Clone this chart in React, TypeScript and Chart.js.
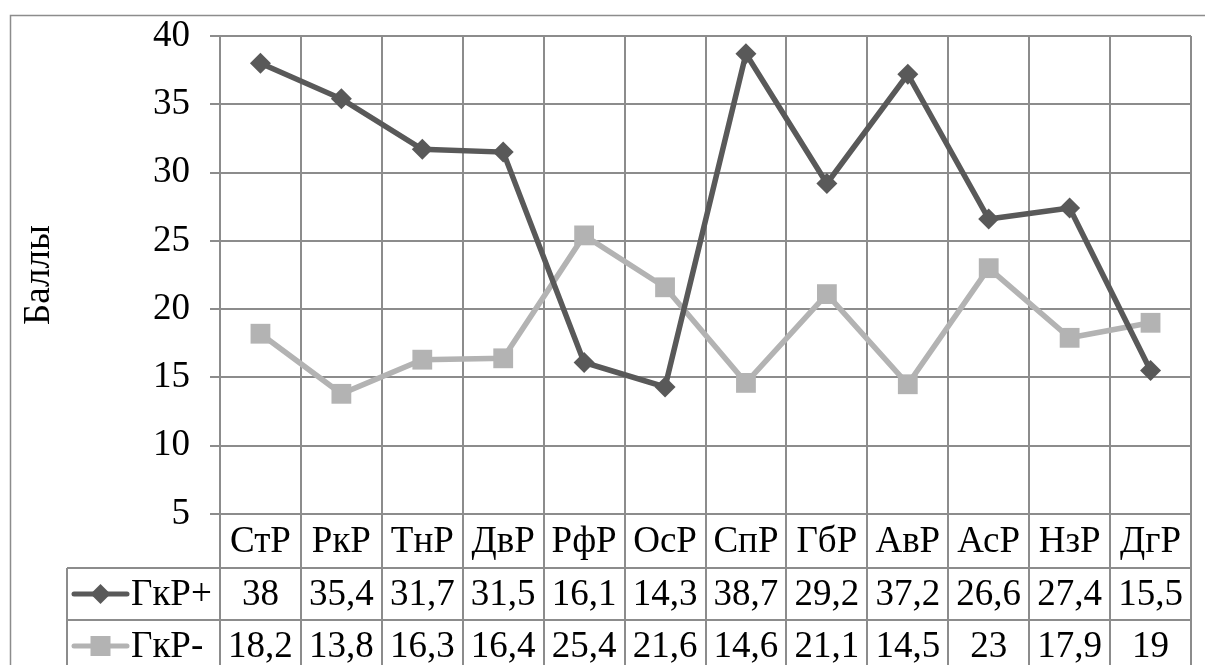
import React, { useEffect, useRef } from "react";
import { Chart, registerables } from "chart.js";

Chart.register(...registerables);

const categories = ["СтР", "РкР", "ТнР", "ДвР", "РфР", "ОсР", "СпР", "ГбР", "АвР", "АсР", "НзР", "ДгР"];
const seriesNames = ["ГкР+", "ГкР-"];
const gkrPlus = [38, 35.4, 31.7, 31.5, 16.1, 14.3, 38.7, 29.2, 37.2, 26.6, 27.4, 15.5];
const gkrMinus = [18.2, 13.8, 16.3, 16.4, 25.4, 21.6, 14.6, 21.1, 14.5, 23, 17.9, 19];
const yMin = 5;
const yMax = 40;
const yStep = 5;
const yTitle = "Баллы";

const DARK = "#595959";
const LIGHT = "#b3b3b3";
const GRID = "#8c8c8c";
const FONT = "'Liberation Serif', 'Times New Roman', serif";

const fmt = (v: number) => String(v).replace(".", ",");

const tablePlugin = {
  id: "dataTable",
  afterDraw(chart: any) {
    const ctx = chart.ctx as CanvasRenderingContext2D;
    const area = chart.chartArea;
    const n = categories.length;
    const colW = (area.right - area.left) / n;
    const rowTops = [area.bottom, area.bottom + 54, area.bottom + 106, area.bottom + 158];
    const legendLeft = 67;
    ctx.save();
    ctx.strokeStyle = GRID;
    ctx.lineWidth = 1.5;
    ctx.strokeRect(10.5, 15.5, 1210, 700);

    ctx.lineWidth = 2;
    ctx.strokeStyle = GRID;
    for (let i = 0; i <= n; i++) {
      const xx = Math.round(area.left + i * colW);
      ctx.beginPath();
      ctx.moveTo(xx, area.bottom);
      ctx.lineTo(xx, 680);
      ctx.stroke();
    }
    for (let r = 1; r < rowTops.length - 1; r++) {
      ctx.beginPath();
      ctx.moveTo(legendLeft, rowTops[r]);
      ctx.lineTo(area.right, rowTops[r]);
      ctx.stroke();
    }
    ctx.beginPath();
    ctx.moveTo(legendLeft, rowTops[1]);
    ctx.lineTo(legendLeft, 680);
    ctx.stroke();

    ctx.fillStyle = "#000";
    ctx.font = `37px ${FONT}`;
    ctx.textAlign = "center";
    ctx.textBaseline = "middle";
    const rowsData = [gkrPlus, gkrMinus];
    for (let i = 0; i < n; i++) {
      const cx = area.left + (i + 0.5) * colW;
      ctx.fillText(categories[i], cx, (rowTops[0] + rowTops[1]) / 2 + 1);
      for (let r = 0; r < rowsData.length; r++) {
        ctx.fillText(fmt(rowsData[r][i]), cx, (rowTops[r + 1] + rowTops[r + 2]) / 2 + 1);
      }
    }
    const colors = [DARK, LIGHT];
    for (let r = 0; r < seriesNames.length; r++) {
      const cy = (rowTops[r + 1] + rowTops[r + 2]) / 2;
      ctx.strokeStyle = colors[r];
      ctx.fillStyle = colors[r];
      ctx.lineWidth = 5;
      ctx.lineCap = "round";
      ctx.beginPath();
      ctx.moveTo(74, cy);
      ctx.lineTo(127, cy);
      ctx.stroke();
      const mx = 100.5;
      ctx.beginPath();
      if (r === 0) {
        ctx.moveTo(mx - 10, cy);
        ctx.lineTo(mx, cy - 10);
        ctx.lineTo(mx + 10, cy);
        ctx.lineTo(mx, cy + 10);
        ctx.closePath();
      } else {
        ctx.rect(mx - 10, cy - 10, 20, 20);
      }
      ctx.fill();
      ctx.fillStyle = "#000";
      ctx.textAlign = "left";
      ctx.fillText(seriesNames[r], 131, cy + 1);
    }
    ctx.restore();
  },
};

export default function App() {
  const ref = useRef<HTMLCanvasElement | null>(null);
  useEffect(() => {
    let chart: Chart | null = null;
    let cancelled = false;
    const build = () => {
      if (cancelled || !ref.current) return;
      chart = new Chart(ref.current, {
        type: "line",
        data: {
          labels: categories,
          datasets: [
            {
              label: seriesNames[0],
              data: gkrPlus,
              borderColor: DARK,
              backgroundColor: DARK,
              borderWidth: 5.5,
              pointStyle: "rectRot",
              pointRadius: 10.5,
              pointBorderWidth: 0,
              tension: 0,
              clip: false as any,
            },
            {
              label: seriesNames[1],
              data: gkrMinus,
              borderColor: LIGHT,
              backgroundColor: LIGHT,
              borderWidth: 5.5,
              pointStyle: "rect",
              pointRadius: 14,
              pointBorderWidth: 0,
              tension: 0,
              clip: false as any,
            },
          ],
        },
        options: {
          responsive: false,
          animation: false,
          devicePixelRatio: 1,
          layout: { padding: { top: 36, right: 13, left: 0, bottom: 0 } },
          plugins: { legend: { display: false }, tooltip: { enabled: false } },
          scales: {
            x: {
              type: "category",
              offset: true,
              grid: { color: GRID, lineWidth: 2, offset: true, drawTicks: false },
              border: { color: GRID, width: 2 },
              ticks: { display: false },
              afterFit: (s: any) => {
                s.height = 151;
                s.paddingLeft = 0;
                s.paddingRight = 0;
              },
            },
            y: {
              min: yMin,
              max: yMax,
              ticks: {
                stepSize: yStep,
                color: "#000",
                font: { family: FONT, size: 37 },
                padding: 20,
              },
              grid: { color: GRID, lineWidth: 2, tickLength: 10 },
              border: { color: GRID, width: 2 },
              title: {
                display: true,
                text: yTitle,
                color: "#000",
                font: { family: FONT, size: 37 },
                padding: { top: 17, bottom: 0 },
              },
              afterFit: (s: any) => {
                s.width = 220;
                s.paddingTop = 0;
                s.paddingBottom = 0;
              },
            },
          },
        },
        plugins: [tablePlugin],
      });
    };
    const fonts: any = (document as any).fonts;
    if (fonts && fonts.load) {
      Promise.all([fonts.load("37px 'Liberation Serif'", "Баллы 0123456789")])
        .catch(() => null)
        .then(build);
    } else {
      build();
    }
    return () => {
      cancelled = true;
      if (chart) chart.destroy();
    };
  }, []);
  return (
    <div style={{ position: "fixed", left: 0, top: 0, width: 1205, height: 665, background: "#fff" }}>
      <canvas ref={ref} width={1205} height={665} />
    </div>
  );
}
